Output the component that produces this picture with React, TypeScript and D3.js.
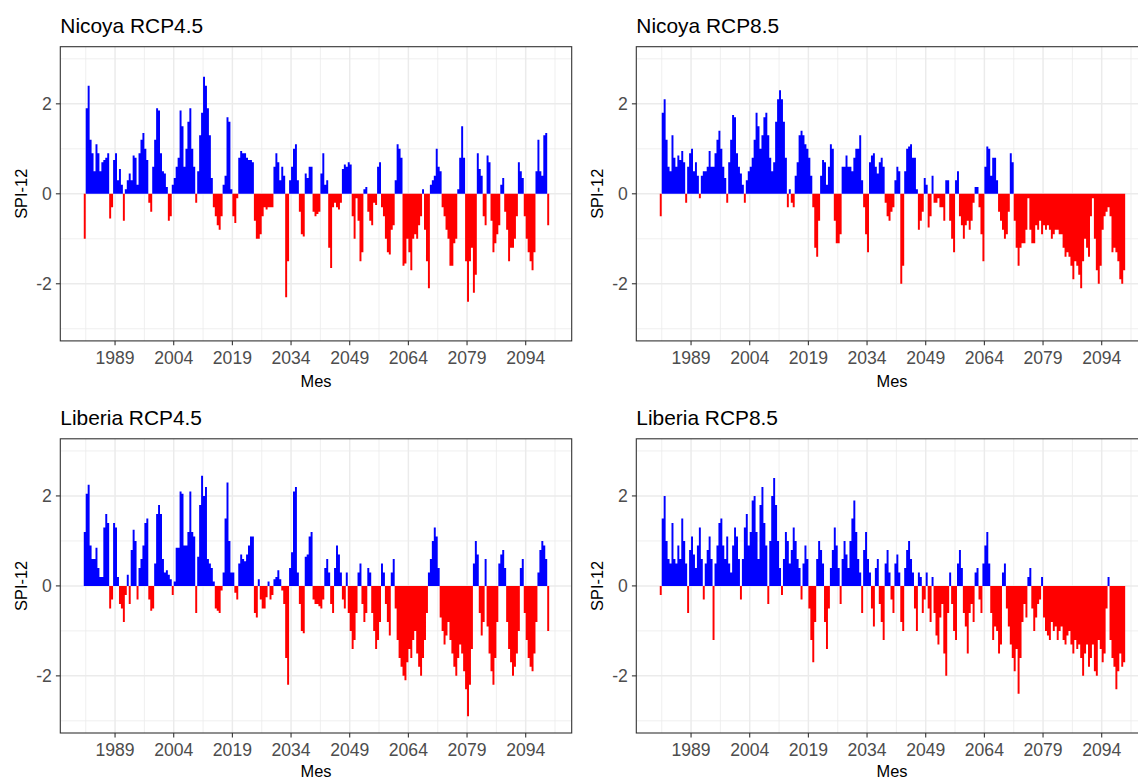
import React from "react";
import * as d3 from "d3";

// Semi-annual SPI-12 values (first value = first half of 1981)
const startYear = 1981;
const stepYears = 0.5;

const nicoya45 = [
  -1.0, 1.9, 2.4, 1.2, 0.9, 0.5, 1.1, 0.9, 0.5, 0.7, 0.75, 0.8, 0.9, -0.55, -0.3, 0.75, 0.9, 0.3, 0.55, 0.2,
  -0.6, 0.1, 0.3, 0.45, 0.3, 0.85, 0.8, 0.2, 0.9, 1.2, 1.35, 1.0, 0.75, -0.2, -0.4, 0.6, 1.2, 1.9, 1.85, 0.9,
  0.5, 0.45, 0.15, -0.6, -0.5, 0.2, 0.35, 0.6, 0.8, 1.85, 1.5, 0.6, 1.0, 1.6, 1.9, 1.0, 0.6, -0.2, 0.5, 1.3,
  1.8, 2.6, 2.4, 1.9, 1.3, 0.35, -0.3, -0.5, -0.7, -0.8, -0.5, 0.2, 0.4, 1.7, 1.6, 0.1, -0.5, -0.65, -0.1, 0.8,
  0.95, 0.9, 0.9, 0.8, 0.75, 0.75, 0.7, -0.6, -1.0, -1.0, -0.9, -0.5, -0.3, -0.35, -0.3, -0.3, -0.3, 0.6, 0.9, 0.7,
  0.3, 0.6, 0.4, -2.3, -1.5, 0.3, 0.6, 1.0, 1.1, 0.3, -0.4, -0.9, -0.95, 0.45, 0.35, 0.6, 0.6, -0.4, -0.5, -0.45,
  -0.4, 0.45, 0.9, 0.2, 0.3, -1.2, -1.65, -0.3, -0.2, -0.3, -0.35, -0.2, 0.55, 0.65, 0.6, 0.7, 0.65, -0.5, -1.0, -0.1,
  -0.6, -1.5, -1.3, 0.1, 0.15, -0.4, -0.6, -0.7, -0.2, -0.25, 0.6, 0.7, -0.3, -0.5, -1.0, -1.3, -1.35, -0.8, -0.7, 0.3,
  1.1, 1.0, 0.8, -1.6, -1.55, -1.0, -1.3, -1.7, -1.0, -0.9, -1.0, -0.7, -0.5, 0.1, -0.8, -1.5, -2.1, 0.2, 0.3, 0.4,
  1.0, 0.6, 0.5, -0.3, -0.5, -0.8, -1.0, -1.6, -1.6, -1.1, -1.0, 0.1, 0.8, 1.5, 0.8, -1.5, -2.4, -1.5, -1.2, -2.2,
  -1.8, 0.9, 0.55, 0.4, -0.5, -0.7, 0.85, 0.7, -0.6, -1.3, -1.1, -0.9, -0.7, 0.2, 0.35, -0.4, -0.8, -1.5, -1.2, -1.2,
  -1.0, -0.5, 0.7, 0.5, 0.35, -0.5, -1.0, -1.3, -1.5, -1.7, -1.3, 0.5, 1.2, 0.5, 0.4, 1.3, 1.35, -0.7,
];

const nicoya85 = [
  -0.5, 1.8, 2.1, 1.2, 0.6, 0.5, 1.3, 0.8, 0.6, 0.85, 0.75, 0.95, 0.7, -0.2, 0.6, 0.9, 1.0, 0.5, 0.7, 0.4,
  -0.1, 0.4, 0.5, 0.5, 0.6, 0.95, 0.6, 0.6, 0.9, 1.2, 1.4, 1.0, 0.6, 0.35, -0.2, 0.7, 1.2, 1.75, 1.7, 0.9,
  0.6, 0.45, 0.2, -0.2, 0.3, 0.5, 0.6, 0.8, 1.2, 1.8, 1.5, 1.0, 1.3, 1.7, 1.8, 1.3, 0.8, 0.5, 0.7, 1.6,
  2.1, 2.3, 2.1, 1.6, 0.8, -0.3, 0.1, -0.2, -0.3, 0.4, 0.7, 1.3, 1.4, 1.3, 1.1, 1.0, 0.8, 0.4, -0.3, -1.2,
  -1.4, -0.6, 0.4, 0.75, 0.7, 0.2, 0.6, 1.1, 1.0, -0.6, -1.1, -1.1, -0.9, 0.6, 0.6, 0.85, 0.6, 0.6, 0.5, 0.8,
  1.0, 1.0, 1.3, 0.3, -0.3, -0.9, -1.3, 0.7, 0.85, 0.9, 0.6, 0.45, 0.7, 0.8, 0.6, -0.2, -0.5, -0.6, -0.4, -0.3,
  0.3, 0.6, 0.5, -2.0, -1.6, 0.5, 1.0, 1.05, 1.1, 0.8, 0.8, 0.1, -0.8, -0.6, -0.4, 0.35, 0.2, -0.75, -0.5, 0.4,
  -0.2, -0.2, -0.1, -0.3, -0.3, -0.6, 0.3, 0.3, -0.6, -1.0, -1.3, 0.3, 0.5, -0.5, -0.7, -1.0, -0.7, -0.6, -0.8, -0.6,
  -0.2, 0.15, 0.15, -0.3, -0.9, -1.5, 0.6, 1.05, 1.0, 0.4, 0.8, 0.8, 0.3, -0.4, -0.6, -0.8, -1.0, -0.9, -0.4, 0.9,
  0.7, -0.6, -1.2, -1.6, -1.2, -1.1, -1.1, -0.8, -0.1, -0.8, -1.1, -1.1, -0.7, -0.8, -0.6, -0.9, -0.7, -0.8, -0.7, -0.8,
  -1.0, -0.9, -0.8, -0.8, -0.9, -0.9, -1.2, -1.4, -1.3, -1.4, -1.6, -1.9, -1.5, -1.6, -1.8, -2.1, -1.5, -1.0, -1.2, -1.4,
  -0.5, -0.1, -1.0, -1.7, -2.0, -1.6, -0.8, -0.5, -0.4, -0.3, -0.5, -1.3, -1.2, -1.3, -1.5, -1.9, -2.0, -1.7,
];

const liberia45 = [
  1.2, 2.05, 2.25, 0.9, 0.6, 0.6, 0.85, 0.4, 0.2, 0.2, 1.3, 1.6, 1.4, -0.5, -0.3, 1.4, 1.3, 0.2, -0.4, -0.5,
  -0.8, -0.2, 0.25, -0.4, 0.8, 1.25, 1.0, -0.3, 0.4, 0.6, 0.9, 1.4, 1.5, -0.3, -0.55, -0.5, 0.5, 1.6, 1.8, 1.6,
  0.6, 0.3, 0.35, 0.25, 0.15, -0.2, 0.1, 0.85, 0.85, 2.1, 2.05, 0.9, 0.9, 1.2, 2.1, 1.2, 1.1, -0.6, 0.65, 1.8,
  2.45, 2.0, 2.2, 0.6, 0.5, 0.4, 0.1, -0.5, -0.55, -0.6, -0.1, 0.3, 1.5, 2.3, 1.0, 0.3, 0.3, -0.15, -0.3, 0.5,
  0.7, 0.6, 0.55, 0.7, 0.9, 1.1, 1.1, -0.6, -0.7, 0.15, -0.3, -0.5, -0.5, -0.25, 0.1, -0.3, -0.2, 0.15, 0.2, 0.35,
  0.15, -0.1, -0.4, -1.6, -2.2, 0.4, 0.75, 2.1, 2.2, 0.3, -0.4, -1.0, -1.05, 0.65, 0.7, 1.1, 1.2, -0.3, -0.4, -0.4,
  -0.45, -0.5, -0.3, 0.4, 0.6, 0.3, -0.4, -0.6, 0.4, 0.9, 0.7, 0.3, -0.3, -0.5, 0.3, -0.6, -1.0, -1.4, -1.2, -0.6,
  0.3, 0.5, -0.4, -0.8, -0.6, 0.4, 0.3, -0.6, -1.0, -1.4, -1.2, -0.8, 0.5, 0.3, -0.4, -0.8, -1.1, 0.3, 0.6, -0.5,
  -1.2, -1.6, -1.8, -2.0, -2.1, -1.7, -1.4, -1.6, -1.2, -1.0, -1.5, -1.8, -2.0, -1.6, -1.2, -0.6, 0.3, 0.6, 1.0, 1.3,
  1.1, 0.4, -0.7, -1.0, -1.3, -1.1, -0.8, -1.2, -1.5, -1.8, -2.0, -1.6, -1.3, -1.5, -1.9, -2.3, -2.9, -2.2, -1.4, 0.5,
  1.0, 0.7, -0.6, -1.1, -0.8, 0.6, -0.9, -1.5, -1.9, -2.2, -1.6, -0.8, 0.5, 0.7, 0.8, 0.4, -0.8, -1.4, -1.7, -2.0,
  -1.8, -1.5, -1.0, 0.4, 0.6, -0.6, -1.2, -1.6, -1.8, -1.9, -1.5, -0.8, 0.3, 0.8, 1.0, 0.9, 0.6, -1.0,
];

const liberia85 = [
  -0.2, 1.5, 2.0, 1.0, 0.6, 0.5, 1.4, 0.6, 0.5, 0.9, 0.6, 1.5, 1.0, 0.5, -0.6, 0.8, 1.1, 0.7, 0.4, 0.9,
  1.3, 0.6, -0.3, 0.5, 0.8, 1.1, 0.6, -1.2, 0.5, 0.9, 1.4, 1.5, 0.9, 0.6, 1.1, 0.5, 0.3, 0.9, 1.3, 1.1,
  0.6, -0.3, 0.6, 1.3, 1.6, 0.9, 1.2, 1.9, 2.0, 1.2, 0.6, 1.8, 2.2, 1.4, 0.9, -0.4, 1.0, 2.0, 2.4, 1.8,
  1.0, 0.4, -0.2, 0.6, 1.2, 1.0, 0.5, 0.8, 1.3, 1.0, 0.6, 0.4, -0.3, 0.5, 0.9, 0.6, -0.5, -1.2, -1.7, -0.8,
  0.6, 1.0, 0.8, 0.5, -0.8, -1.4, -0.5, 0.4, 0.8, 1.3, 0.9, 0.4, -0.4, 0.6, 1.0, 0.7, 0.4, 1.0, 1.5, 1.9,
  1.2, 0.6, 0.3, -0.6, 0.8, 1.2, 0.6, 0.3, -0.5, -0.9, 0.4, 0.6, -0.4, -0.8, -1.2, 0.5, 0.8, 0.3, -0.3, -0.6,
  0.5, 0.7, 0.3, -0.8, -1.0, 0.4, 0.8, 1.0, 0.6, 0.3, -0.5, -1.0, 0.3, 0.2, -0.6, -0.3, 0.3, -0.5, -0.8, 0.2,
  -0.6, -1.1, -1.3, -0.7, -0.4, -1.5, -2.0, -0.6, 0.3, -0.4, -1.0, -1.2, 0.5, 0.8, 0.4, -0.6, -0.9, -1.5, -0.6, -0.4,
  -0.8, 0.3, 0.4, -0.3, -0.6, 0.5, 0.9, 1.2, 0.5, -0.6, -1.2, -0.9, -1.0, -1.5, -1.3, 0.3, 0.5, -0.5, -0.9, -1.3,
  -1.6, -1.9, -1.4, -2.4, -1.6, -0.8, -0.4, -0.7, 0.2, 0.4, -0.5, -1.0, -0.7, -0.4, -0.3, 0.2, -0.7, -1.0, -1.1, -1.2,
  -0.8, -1.0, -0.9, -1.2, -1.0, -0.9, -1.2, -1.3, -1.1, -1.0, -1.3, -1.5, -1.2, -1.4, -1.3, -1.6, -2.0, -1.5, -1.3, -1.8,
  -1.6, -1.3, -1.9, -2.0, -1.2, -1.4, -1.7, -1.5, -0.5, 0.2, -1.2, -1.6, -1.8, -2.3, -1.9, -1.5, -1.8, -1.7,
];

const panelTitles = ["Nicoya RCP4.5", "Nicoya RCP8.5", "Liberia RCP4.5", "Liberia RCP8.5"];
const panelSeries = [nicoya45, nicoya85, liberia45, liberia85];
const xTickYears = [1989, 2004, 2019, 2034, 2049, 2064, 2079, 2094];
const xMinorYears = [1981.5, 1996.5, 2011.5, 2026.5, 2041.5, 2056.5, 2071.5, 2086.5, 2101.5];
const yTicks = [-2, 0, 2];
const yMinorTicks = [-3, -1, 1, 3];
const xAxisTitle = "Mes";
const yAxisTitle = "SPI-12";

const W = 1138;
const H = 779;
const PW = 511.4;
const PH = 294.2;
const lefts = [60.3, 636.3];
const tops = [46.7, 438.8];
const FONT = "'Liberation Sans', Arial, sans-serif";

type Pt = { t: number; v: number };

function Panel({ title, data, left, top, id }: { title: string; data: number[]; left: number; top: number; id: string }) {
  const x = d3.scaleLinear().domain([1975.0, 2105.76]).range([left, left + PW]);
  const y = d3.scaleLinear().domain([-3.27, 3.27]).range([top + PH, top]);
  const bottom = top + PH;
  const right = left + PW;
  const y0 = y(0);

  const pts: Pt[] = data.map((v, i) => ({ t: startYear + i * stepYears, v }));
  pts.push({ t: startYear + data.length * stepYears, v: data[data.length - 1] });

  const posArea = d3
    .area<Pt>()
    .x((d) => x(d.t))
    .y0(y0)
    .y1((d) => y(Math.max(d.v, 0)))
    .curve(d3.curveStepAfter);
  const negArea = d3
    .area<Pt>()
    .x((d) => x(d.t))
    .y0(y0)
    .y1((d) => y(Math.min(d.v, 0)))
    .curve(d3.curveStepAfter);

  const titleY = top - 13.4;
  const mesY = Math.min(bottom + 45.8, 776.5);

  return (
    <g>
      <defs>
        <clipPath id={id}>
          <rect x={left} y={top} width={PW} height={PH} />
        </clipPath>
      </defs>
      <rect x={left} y={top} width={PW} height={PH} fill="#FFFFFF" />
      <g clipPath={`url(#${id})`}>
        {yMinorTicks.map((v) => (
          <line key={"ym" + v} x1={left} x2={right} y1={y(v)} y2={y(v)} stroke="#EBEBEB" strokeWidth={0.8} />
        ))}
        {xMinorYears.map((v) => (
          <line key={"xm" + v} x1={x(v)} x2={x(v)} y1={top} y2={bottom} stroke="#EBEBEB" strokeWidth={0.8} />
        ))}
        {yTicks.map((v) => (
          <line key={"yM" + v} x1={left} x2={right} y1={y(v)} y2={y(v)} stroke="#EBEBEB" strokeWidth={1.5} />
        ))}
        {xTickYears.map((v) => (
          <line key={"xM" + v} x1={x(v)} x2={x(v)} y1={top} y2={bottom} stroke="#EBEBEB" strokeWidth={1.5} />
        ))}
        <path d={posArea(pts) || ""} fill="#0000FF" />
        <path d={negArea(pts) || ""} fill="#FF0000" />
      </g>
      <rect x={left} y={top} width={PW} height={PH} fill="none" stroke="#333333" strokeWidth={1.1} />
      {xTickYears.map((v) => (
        <g key={"xt" + v}>
          <line x1={x(v)} x2={x(v)} y1={bottom} y2={bottom + 4.4} stroke="#333333" strokeWidth={1.1} />
          <text x={x(v)} y={bottom + 23.4} textAnchor="middle" fontSize={17.6} fill="#4D4D4D" fontFamily={FONT}>
            {v}
          </text>
        </g>
      ))}
      {yTicks.map((v) => (
        <g key={"yt" + v}>
          <line x1={left - 4.4} x2={left} y1={y(v)} y2={y(v)} stroke="#333333" strokeWidth={1.1} />
          <text x={left - 8.4} y={y(v) + 6.2} textAnchor="end" fontSize={17.6} fill="#4D4D4D" fontFamily={FONT}>
            {v}
          </text>
        </g>
      ))}
      <text x={(left + right) / 2} y={mesY} textAnchor="middle" fontSize={16.4} fill="#000000" fontFamily={FONT}>
        {xAxisTitle}
      </text>
      <text
        transform={`translate(${left - 33.3},${(top + bottom) / 2}) rotate(-90)`}
        textAnchor="middle"
        fontSize={16.4}
        fill="#000000"
        fontFamily={FONT}
      >
        {yAxisTitle}
      </text>
      <text x={left} y={titleY} fontSize={20.9} fill="#000000" fontFamily={FONT}>
        {title}
      </text>
    </g>
  );
}

export default function App() {
  return (
    <svg
      width={W}
      height={H}
      viewBox={`0 0 ${W} ${H}`}
      style={{ position: "absolute", left: 0, top: 0, background: "#FFFFFF" }}
    >
      <rect x={0} y={0} width={W} height={H} fill="#FFFFFF" />
      {panelTitles.map((t, i) => (
        <Panel
          key={t}
          id={"clip" + i}
          title={t}
          data={panelSeries[i]}
          left={lefts[i % 2]}
          top={tops[Math.floor(i / 2)]}
        />
      ))}
    </svg>
  );
}
